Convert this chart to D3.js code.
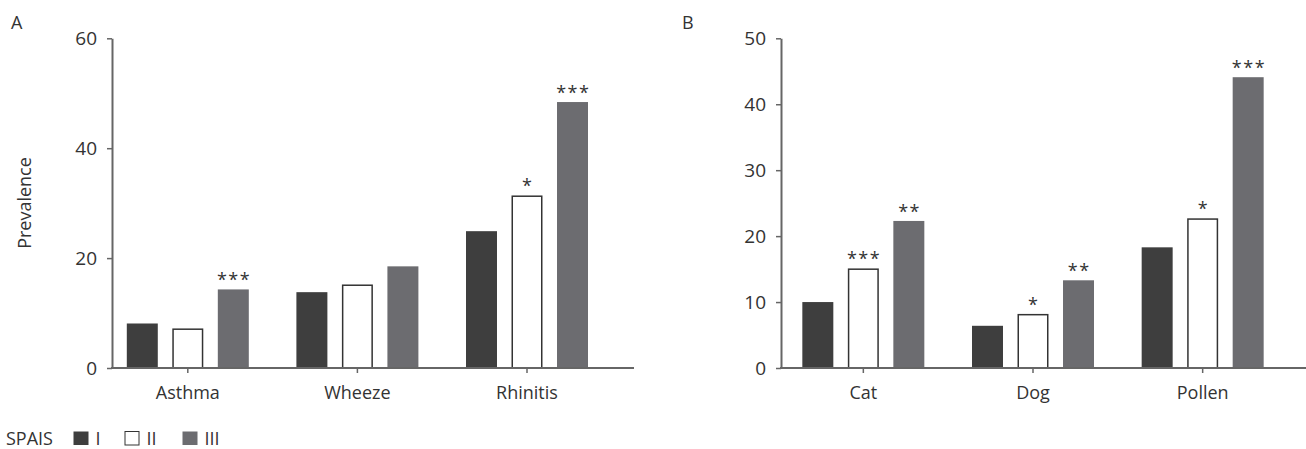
<!DOCTYPE html>
<html>
<head>
<meta charset="utf-8">
<script src="https://cdn.jsdelivr.net/npm/d3@7"></script>
<style>
    body { margin: 0; background: #fff; }
    text { font-family: "Open Sans", "Noto Sans", sans-serif; font-weight: 400; fill: #333; }
</style>
</head>
<body>
<div id="chart"></div>
<script>
// SPAIS groups
const series = ['I', 'II', 'III'];
const seriesColors = { I: '#3e3e3e', II: '#ffffff', III: '#6c6c70' };

// panel A - disease prevalence
const categoriesA = ['Asthma', 'Wheeze', 'Rhinitis'];
const valuesA = {
    I:   [8.1, 13.8, 24.9],
    II:  [7.2, 15.2, 31.4],
    III: [14.3, 18.5, 48.4]
};
const starsA = {
    I:   ['', '', ''],
    II:  ['', '', '*'],
    III: ['***', '', '***']
};
const ticksA = [0, 20, 40, 60];

// panel B - sensitisation
const categoriesB = ['Cat', 'Dog', 'Pollen'];
const valuesB = {
    I:   [10.0, 6.4, 18.3],
    II:  [15.1, 8.2, 22.7],
    III: [22.3, 13.3, 44.1]
};
const starsB = {
    I:   ['', '', ''],
    II:  ['***', '*', '*'],
    III: ['**', '**', '***']
};
const ticksB = [0, 10, 20, 30, 40, 50];

const width = 1306, height = 449;
const axisColor = '#666';

const svg = d3.select('#chart').append('svg')
    .attr('width', width)
    .attr('height', height);

function drawPanel(opts) {
    const { categories, values, stars, ticks, axisX, axisEnd, bandRange, label, labelX } = opts;
    const y = d3.scaleLinear()
        .domain([0, d3.max(ticks)])
        .range([368, 38.3]);

    const x0 = d3.scaleBand()
        .domain(categories)
        .range(bandRange);

    const x1 = d3.scaleBand()
        .domain(series)
        .range([-61, 61])
        .paddingInner(0.319);

    const g = svg.append('g');

    // bars
    series.forEach(s => {
        const rows = categories.map((c, i) => ({ c, v: values[s][i], star: stars[s][i] }));
        const inset = s === 'II' ? 0.75 : 0;
        g.selectAll(null)
            .data(rows)
            .join('rect')
            .attr('x', d => x0(d.c) + x0.bandwidth() / 2 + x1(s) + inset)
            .attr('y', d => y(d.v) + inset)
            .attr('width', x1.bandwidth() - 2 * inset)
            .attr('height', d => y(0) - y(d.v) - inset)
            .attr('fill', seriesColors[s])
            .attr('stroke', s === 'II' ? '#333' : 'none')
            .attr('stroke-width', 1.5);

        g.selectAll(null)
            .data(rows.filter(d => d.star))
            .join('text')
            .attr('x', d => x0(d.c) + x0.bandwidth() / 2 + x1(s) + x1.bandwidth() / 2 + 0.75)
            .attr('y', d => y(d.v) - 3)
            .attr('text-anchor', 'middle')
            .style('font-size', '18px')
            .style('letter-spacing', '1.5px')
            .text(d => d.star);
    });

    // y axis
    const yAxis = g.append('g')
        .attr('transform', `translate(${axisX},0)`)
        .call(d3.axisLeft(y).tickValues(ticks).tickSize(5).tickSizeOuter(0).tickPadding(10));
    yAxis.select('.domain').attr('stroke', axisColor).attr('stroke-width', 2);
    yAxis.selectAll('.tick line').attr('stroke', axisColor).attr('stroke-width', 1.5);
    yAxis.selectAll('.tick text')
        .attr('fill', '#333')
        .style('font-size', '19px')
        .style('font-family', '"Open Sans", sans-serif');

    // x axis
    const xAxis = g.append('g')
        .attr('transform', `translate(0,${y(0)})`)
        .call(d3.axisBottom(x0).tickSize(5).tickSizeOuter(0).tickPadding(13));
    xAxis.select('.domain').remove();
    xAxis.append('line')
        .attr('x1', axisX - 1).attr('x2', axisEnd)
        .attr('stroke', axisColor).attr('stroke-width', 2);
    xAxis.selectAll('.tick line').attr('stroke', axisColor).attr('stroke-width', 1.5);
    xAxis.selectAll('.tick text')
        .attr('fill', '#333')
        .style('font-size', '18px')
        .style('font-family', '"Open Sans", sans-serif');

    svg.append('text')
        .attr('x', labelX)
        .attr('y', 29)
        .style('font-size', '18px')
        .text(label);
}

drawPanel({
    categories: categoriesA, values: valuesA, stars: starsA, ticks: ticksA,
    axisX: 112, axisEnd: 634, bandRange: [103, 611.8], label: 'A', labelX: 11
});

drawPanel({
    categories: categoriesB, values: valuesB, stars: starsB, ticks: ticksB,
    axisX: 781, axisEnd: 1306, bandRange: [778.5, 1287.5], label: 'B', labelX: 682
});

// y title
svg.append('text')
    .attr('transform', 'translate(31,203) rotate(-90)')
    .attr('text-anchor', 'middle')
    .style('font-size', '18px')
    .text('Prevalence');

// legend
const legend = svg.append('g');
legend.append('text')
    .attr('x', 6)
    .attr('y', 444.5)
    .style('font-size', '18px')
    .text('SPAIS');

const legendX = { I: 73.5, II: 124.5, III: 182.5 };
series.forEach(s => {
    legend.append('rect')
        .attr('x', legendX[s] + (s === 'II' ? 0.5 : 0))
        .attr('y', 431.5)
        .attr('width', s === 'II' ? 14 : 15)
        .attr('height', 13.5)
        .attr('fill', seriesColors[s])
        .attr('stroke', s === 'II' ? '#333' : 'none')
        .attr('stroke-width', 1);
    legend.append('text')
        .attr('x', legendX[s] + 22)
        .attr('y', 444.5)
        .style('font-size', '18px')
        .text(s);
});
</script>
</body>
</html>
